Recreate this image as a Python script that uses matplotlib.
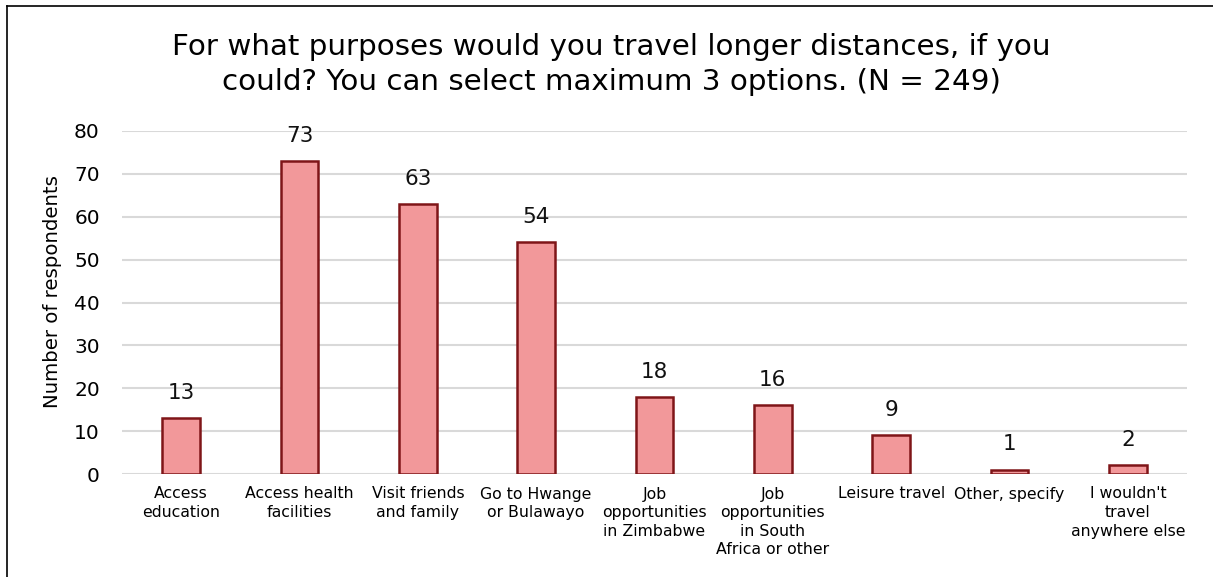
import matplotlib.pyplot as plt
from matplotlib.lines import Line2D

categories = ["Access\neducation", "Access health\nfacilities", "Visit friends\nand family",
              "Go to Hwange\nor Bulawayo", "Job\nopportunities\nin Zimbabwe",
              "Job\nopportunities\nin South\nAfrica or other", "Leisure travel",
              "Other, specify", "I wouldn't\ntravel\nanywhere else"]
counts = [13, 73, 63, 54, 18, 16, 9, 1, 2]
yticks = [0, 10, 20, 30, 40, 50, 60, 70, 80]

W, H = 1213, 577
plt.rcParams['font.family'] = 'DejaVu Sans'
fig = plt.figure(figsize=(W / 100, H / 100), dpi=100)
ax = fig.add_axes([122 / W, 1 - 474 / H, (1187 - 122) / W, (474 - 131) / H])

x = list(range(len(categories)))
ax.bar(x, counts, width=0.32, color='#f2989a', edgecolor='#7f1518', linewidth=1.8, zorder=3)
for xi, v in zip(x, counts):
    ax.annotate(str(v), (xi, v), xytext=(0, 11), textcoords='offset points',
                ha='center', va='bottom', fontsize=15.5, color='#111111')

ax.set_xlim(-0.5, len(categories) - 0.5)
ax.set_ylim(0, 80)
ax.set_yticks(yticks)
ax.tick_params(axis='y', labelsize=14.5, length=0, pad=16)
ax.set_xticks(x)
ax.set_xticklabels(categories, fontsize=11.3, linespacing=1.3)
ax.tick_params(axis='x', length=0, pad=9)
ax.grid(axis='y', color='#d9d9d9', linewidth=1.5, zorder=0)
for s in ax.spines.values():
    s.set_visible(False)

fig.text(53 / W, 1 - 292 / H, "Number of respondents", rotation=90,
         ha='center', va='center', fontsize=14.2)

fig.text((170 + 1052) / 2 / W, 1 - 33 / H,
         "For what purposes would you travel longer distances, if you\ncould? You can select maximum 3 options. (N = 249)",
         fontsize=21.2, ha='center', va='top', linespacing=1.32)

# outer frame, left and top edges
fig.add_artist(Line2D([7 / W, 7 / W], [0, 1 - 6 / H], color='black', linewidth=1.2))
fig.add_artist(Line2D([7 / W, 1], [1 - 6 / H, 1 - 6 / H], color='black', linewidth=1.2))

fig.savefig('out.png', dpi=100)
